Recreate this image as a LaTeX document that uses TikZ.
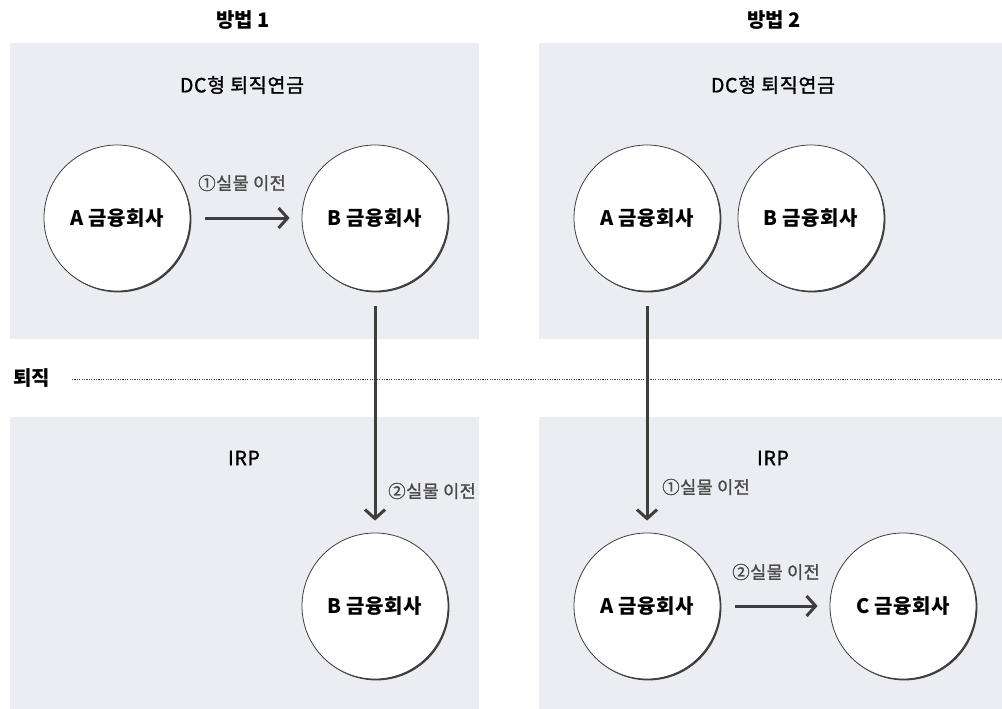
\documentclass[tikz,border=0pt]{standalone}
\usepackage{fontspec}
\setmainfont{Noto Sans CJK KR}
\newfontfamily\medfont[FakeBold=1.2]{Noto Sans CJK KR}
\usetikzlibrary{arrows.meta,shadows}
\definecolor{panelfill}{HTML}{ECEDF2}
\definecolor{inkdark}{HTML}{3E3E3E}
\definecolor{labelgray}{HTML}{4A4A4A}
\tikzset{
  panel/.style={fill=panelfill, draw=none},
  company/.style={circle, draw=inkdark, line width=0.8pt, fill=white,
    minimum size=146pt, inner sep=0pt, text=black,
    font=\bfseries\fontsize{20}{22}\selectfont\addfontfeature{LetterSpace=3},
    drop shadow={opacity=1, fill=inkdark, shadow xshift=1.4pt, shadow yshift=-1.4pt}},
  flow/.style={draw=inkdark, line width=3pt,
    -{Straight Barb[length=9pt, width=20pt]},
    shorten <=15pt, shorten >=12pt},
  steplabel/.style={text=labelgray, font=\medfont\fontsize{17.5}{19}\selectfont\addfontfeature{LetterSpace=2.5}},
  title/.style={text=black, font=\bfseries\fontsize{20}{22}\selectfont},
  heading/.style={text=black, font=\medfont\fontsize{19.5}{21}\selectfont\addfontfeature{LetterSpace=3.5}},
  retline/.style={draw=inkdark, line width=1pt, dash pattern=on 1.2pt off 1.2pt}
}
\begin{document}
\begin{tikzpicture}[x=1pt, y=-1pt]
  \useasboundingbox (0,0) rectangle (1002,709);
  \fill[white] (0,0) rectangle (1002,709);

  % background panels
  \path[panel] (10,43) rectangle (479,339);
  \path[panel] (539,43) rectangle (1002,339);
  \path[panel] (10,417) rectangle (479,709);
  \path[panel] (539,417) rectangle (1002,709);

  % column titles and section headings
  \node[title] (m1) at (243,20) {방법 1};
  \node[title] (m2) at (774,20) {방법 2};
  \node[heading] (h1) at (242,85) {DC형 퇴직연금};
  \node[heading] (h2) at (773,85) {DC형 퇴직연금};
  \node[heading] (h3) at (244,458) {IRP};
  \node[heading] (h4) at (773,458) {IRP};

  % retirement boundary
  \node[title] (ret) at (32,378) {퇴직};
  \coordinate (linestart) at (72,379);
  \coordinate (lineend) at (1002,379);
  \draw[retline] (linestart) -- (lineend);

  % financial companies
  \node[company] (a1) at (117,218) {A 금융회사};
  \node[company] (b1) at (375,218) {B 금융회사};
  \node[company] (b1r) at (375,606) {B 금융회사};
  \node[company] (a2) at (647,218) {A 금융회사};
  \node[company] (b2) at (811,218) {B 금융회사};
  \node[company] (a2r) at (647,606) {A 금융회사};
  \node[company] (c2r) at (903,606) {C 금융회사};

  % transfers
  \draw[flow] (a1) -- (b1);
  \draw[flow] (b1) -- (b1r);
  \draw[flow] (a2) -- (a2r);
  \draw[flow] (a2r) -- (c2r);

  \node[steplabel] (l1) at (242,183) {①실물 이전};
  \node[steplabel] (l2) at (432,491) {②실물 이전};
  \node[steplabel] (l3) at (706,487) {①실물 이전};
  \node[steplabel] (l4) at (776,572) {②실물 이전};
\end{tikzpicture}
\end{document}
